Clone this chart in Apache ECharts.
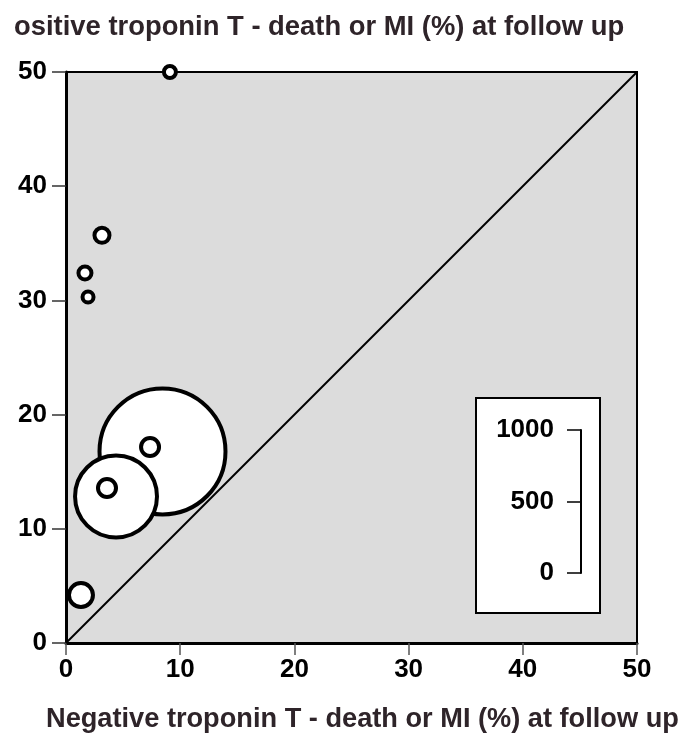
<!DOCTYPE html>
<html>
<head>
<meta charset="utf-8">
<script src="https://cdn.jsdelivr.net/npm/echarts@6/dist/echarts.min.js"></script>
<style>
  html, body { margin: 0; padding: 0; background: #fff; }
  #chart { width: 694px; height: 736px; }
</style>
</head>
<body>
<div id="chart"></div>
<script>
// x = negative troponin T event rate, y = positive troponin T event rate, n = patients
const negRate = [8.45, 4.38, 7.36, 3.59, 9.1, 3.15, 1.66, 1.93, 1.31]
const posRate = [16.77, 12.83, 17.16, 13.57, 50, 35.7, 32.4, 30.3, 4.2]
const patients = [881, 573, 126, 126, 84, 105, 91, 77, 168]
const axisTicks = [0, 10, 20, 30, 40, 50]
const sizeTicks = [0, 500, 1000]

const pxPerPatient = 143 / 1000 // legend bracket: 1000 patients = 143px diameter
const font = 'Liberation Sans, Arial, sans-serif'

const points = negRate.map((x, i) => [x, posRate[i], patients[i]])

const chart = echarts.init(document.getElementById('chart'))

chart.setOption({
    animation: false,
    grid: [
        { left: 66, right: 57, top: 72, bottom: 93, show: true, backgroundColor: '#dcdcdc', borderColor: '#000', borderWidth: 2 },
        { left: 581, width: 1, top: 430, height: 143 }
    ],
    xAxis: [
        {
            type: 'value', min: axisTicks[0], max: axisTicks[axisTicks.length - 1], interval: 10,
            axisLine: { show: true, lineStyle: { color: '#000', width: 3 } },
            axisTick: { show: true, length: 12, lineStyle: { color: '#555', width: 1.5 } },
            axisLabel: { color: '#000', fontSize: 26, fontWeight: 'bold', fontFamily: font, margin: 14 },
            splitLine: { show: false }
        },
        { gridIndex: 1, type: 'value', show: false }
    ],
    yAxis: [
        {
            type: 'value', min: axisTicks[0], max: axisTicks[axisTicks.length - 1], interval: 10,
            axisLine: { show: true, lineStyle: { color: '#000', width: 3 } },
            axisTick: { show: true, length: 14, lineStyle: { color: '#333', width: 1.5 } },
            axisLabel: { color: '#000', fontSize: 26, fontWeight: 'bold', fontFamily: font, margin: 19 },
            splitLine: { show: false }
        },
        {
            gridIndex: 1, type: 'value', min: sizeTicks[0], max: sizeTicks[sizeTicks.length - 1], interval: 500,
            axisLine: { show: true, lineStyle: { color: '#000', width: 2 } },
            axisTick: { show: true, length: 14, lineStyle: { color: '#000', width: 1.5 } },
            axisLabel: { color: '#000', fontSize: 26, fontWeight: 'bold', fontFamily: font, margin: 27, formatter: v => String(v) },
            splitLine: { show: false },
            z: 10
        }
    ],
    graphic: [
        {
            type: 'rect', left: 475, top: 397, z: 5,
            shape: { width: 124, height: 215 },
            style: { fill: '#fff', stroke: '#000', lineWidth: 2 }
        },
        {
            type: 'text', left: 14, top: 14,
            style: { text: 'ositive troponin T - death or MI (%) at follow up', fill: '#2e2429', font: 'bold 27.4px ' + font }
        },
        {
            type: 'text', left: 46, top: 706,
            style: { text: 'Negative troponin T - death or MI (%) at follow up', fill: '#2e2429', font: 'bold 27.2px ' + font }
        }
    ],
    series: [
        {
            type: 'line',
            data: [[0, 0], [50, 50]],
            symbol: 'none',
            silent: true,
            lineStyle: { color: '#000', width: 2 }
        },
        {
            type: 'scatter',
            data: points,
            symbol: 'circle',
            symbolSize: v => v[2] * pxPerPatient,
            itemStyle: { color: '#fff', borderColor: '#000', borderWidth: 4, opacity: 1 }
        }
    ]
})
</script>
</body>
</html>
